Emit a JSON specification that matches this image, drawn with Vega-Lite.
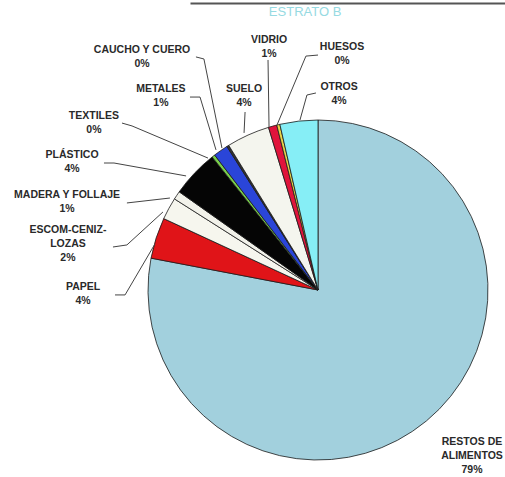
{
  "$schema": "https://vega.github.io/schema/vega-lite/v6.json",
  "autosize": {"type": "none"},
  "width": 340,
  "height": 340,
  "padding": {"left": 148, "top": 120, "right": 17, "bottom": 17},
  "background": "white",
  "config": {"view": {"stroke": null}},
  "datasets": {
    "slices": [
      {"cat": "RESTOS DE ALIMENTOS", "o": 1, "v": 78.0},
      {"cat": "PAPEL", "o": 2, "v": 3.9},
      {"cat": "ESCOM-CENIZ-LOZAS", "o": 3, "v": 2.1},
      {"cat": "MADERA Y FOLLAJE", "o": 4, "v": 0.8},
      {"cat": "PLÁSTICO", "o": 5, "v": 4.5},
      {"cat": "TEXTILES", "o": 6, "v": 0.3},
      {"cat": "METALES", "o": 7, "v": 1.4},
      {"cat": "CAUCHO Y CUERO", "o": 8, "v": 0.2},
      {"cat": "SUELO", "o": 9, "v": 4.1},
      {"cat": "VIDRIO", "o": 10, "v": 0.8},
      {"cat": "HUESOS", "o": 11, "v": 0.3},
      {"cat": "OTROS", "o": 12, "v": 3.6}
    ],
    "labels": [
      {"t": "CAUCHO Y CUERO\n0%", "x": -103.5, "y": 141.2},
      {"t": "METALES\n1%", "x": -92.4, "y": 118.2},
      {"t": "TEXTILES\n0%", "x": -131.8, "y": 102.4},
      {"t": "PLÁSTICO\n4%", "x": -144.7, "y": 79.4},
      {"t": "MADERA Y FOLLAJE\n1%", "x": -147.6, "y": 55.9},
      {"t": "ESCOM-CENIZ-\nLOZAS\n2%", "x": -147.1, "y": 35.3},
      {"t": "PAPEL\n4%", "x": -138.2, "y": 1.8},
      {"t": "SUELO\n4%", "x": -43.5, "y": 118.2},
      {"t": "VIDRIO\n1%", "x": -28.8, "y": 147.1},
      {"t": "HUESOS\n0%", "x": 14.1, "y": 142.9},
      {"t": "OTROS\n4%", "x": 12.4, "y": 119.4},
      {"t": "RESTOS DE\nALIMENTOS\n79%", "x": 90.6, "y": -89.4}
    ],
    "leaders": [
      {"id": "caucho", "k": 1, "x": -71.8, "y": 137.1},
      {"id": "caucho", "k": 2, "x": -67.1, "y": 135.9},
      {"id": "caucho", "k": 3, "x": -56.5, "y": 83.5},
      {"id": "metales", "k": 1, "x": -75.3, "y": 113.5},
      {"id": "metales", "k": 2, "x": -69.4, "y": 113.5},
      {"id": "metales", "k": 3, "x": -60.0, "y": 82.4},
      {"id": "textiles", "k": 1, "x": -115.3, "y": 98.2},
      {"id": "textiles", "k": 2, "x": -109.4, "y": 96.5},
      {"id": "textiles", "k": 3, "x": -64.7, "y": 77.6},
      {"id": "plastico", "k": 1, "x": -125.9, "y": 74.7},
      {"id": "plastico", "k": 2, "x": -120.0, "y": 74.7},
      {"id": "plastico", "k": 3, "x": -77.6, "y": 67.1},
      {"id": "madera", "k": 1, "x": -112.4, "y": 51.2},
      {"id": "madera", "k": 2, "x": -87.1, "y": 54.1},
      {"id": "escom", "k": 1, "x": -120.6, "y": 25.3},
      {"id": "escom", "k": 2, "x": -112.4, "y": 26.5},
      {"id": "escom", "k": 3, "x": -91.2, "y": 45.9},
      {"id": "papel", "k": 1, "x": -119.4, "y": -2.9},
      {"id": "papel", "k": 2, "x": -113.5, "y": -2.9},
      {"id": "papel", "k": 3, "x": -95.9, "y": 27.1},
      {"id": "suelo", "k": 1, "x": -42.9, "y": 104.7},
      {"id": "suelo", "k": 2, "x": -43.5, "y": 92.4},
      {"id": "vidrio", "k": 1, "x": -29.4, "y": 135.3},
      {"id": "vidrio", "k": 2, "x": -28.8, "y": 95.9},
      {"id": "huesos", "k": 1, "x": 0.0, "y": 138.2},
      {"id": "huesos", "k": 2, "x": -7.1, "y": 137.6},
      {"id": "huesos", "k": 3, "x": -24.1, "y": 97.1},
      {"id": "otros", "k": 1, "x": -1.2, "y": 115.9},
      {"id": "otros", "k": 2, "x": -6.5, "y": 114.7},
      {"id": "otros", "k": 3, "x": -10.6, "y": 100.0}
    ],
    "title": [{"t": "ESTRATO B", "x": -7.6, "y": 163.5}],
    "topline": [{"x": -75, "x2": 110, "y": 168.5}]
  },
  "layer": [
    {
      "data": {"name": "slices"},
      "mark": {"type": "arc", "radius": 170, "stroke": "#1a1a1a", "strokeWidth": 0.8},
      "encoding": {
        "theta": {"field": "v", "type": "quantitative", "stack": true},
        "order": {"field": "o", "type": "quantitative"},
        "color": {
          "field": "cat",
          "type": "nominal",
          "legend": null,
          "scale": {
            "domain": ["RESTOS DE ALIMENTOS", "PAPEL", "ESCOM-CENIZ-LOZAS", "MADERA Y FOLLAJE", "PLÁSTICO", "TEXTILES", "METALES", "CAUCHO Y CUERO", "SUELO", "VIDRIO", "HUESOS", "OTROS"],
            "range": ["#a2d0dd", "#e01418", "#f6f6ee", "#f2f2ea", "#050505", "#7ad04a", "#2a45d8", "#333333", "#f4f5ee", "#e0143c", "#e8d44a", "#86eef6"]
          }
        }
      }
    },
    {
      "data": {"name": "leaders"},
      "mark": {"type": "line", "color": "#444444", "strokeWidth": 1},
      "encoding": {
        "x": {"field": "x", "type": "quantitative", "scale": {"domain": [-100, 100]}, "axis": null},
        "y": {"field": "y", "type": "quantitative", "scale": {"domain": [-100, 100]}, "axis": null},
        "detail": {"field": "id"},
        "order": {"field": "k", "type": "quantitative"}
      }
    },
    {
      "data": {"name": "labels"},
      "mark": {"type": "text", "font": "Liberation Sans", "fontWeight": "bold", "fontSize": 10.5, "color": "#2a2a2a", "lineBreak": "\n", "lineHeight": 14, "align": "center", "baseline": "middle"},
      "encoding": {
        "x": {"field": "x", "type": "quantitative"},
        "y": {"field": "y", "type": "quantitative"},
        "text": {"field": "t"}
      }
    },
    {
      "data": {"name": "title"},
      "mark": {"type": "text", "font": "Liberation Sans", "fontSize": 13, "color": "#96dae2", "align": "center", "baseline": "middle"},
      "encoding": {
        "x": {"field": "x", "type": "quantitative"},
        "y": {"field": "y", "type": "quantitative"},
        "text": {"field": "t"}
      }
    },
    {
      "data": {"name": "topline"},
      "mark": {"type": "rule", "color": "#555555", "strokeWidth": 2},
      "encoding": {
        "x": {"field": "x", "type": "quantitative"},
        "x2": {"field": "x2"},
        "y": {"field": "y", "type": "quantitative"}
      }
    }
  ]
}
